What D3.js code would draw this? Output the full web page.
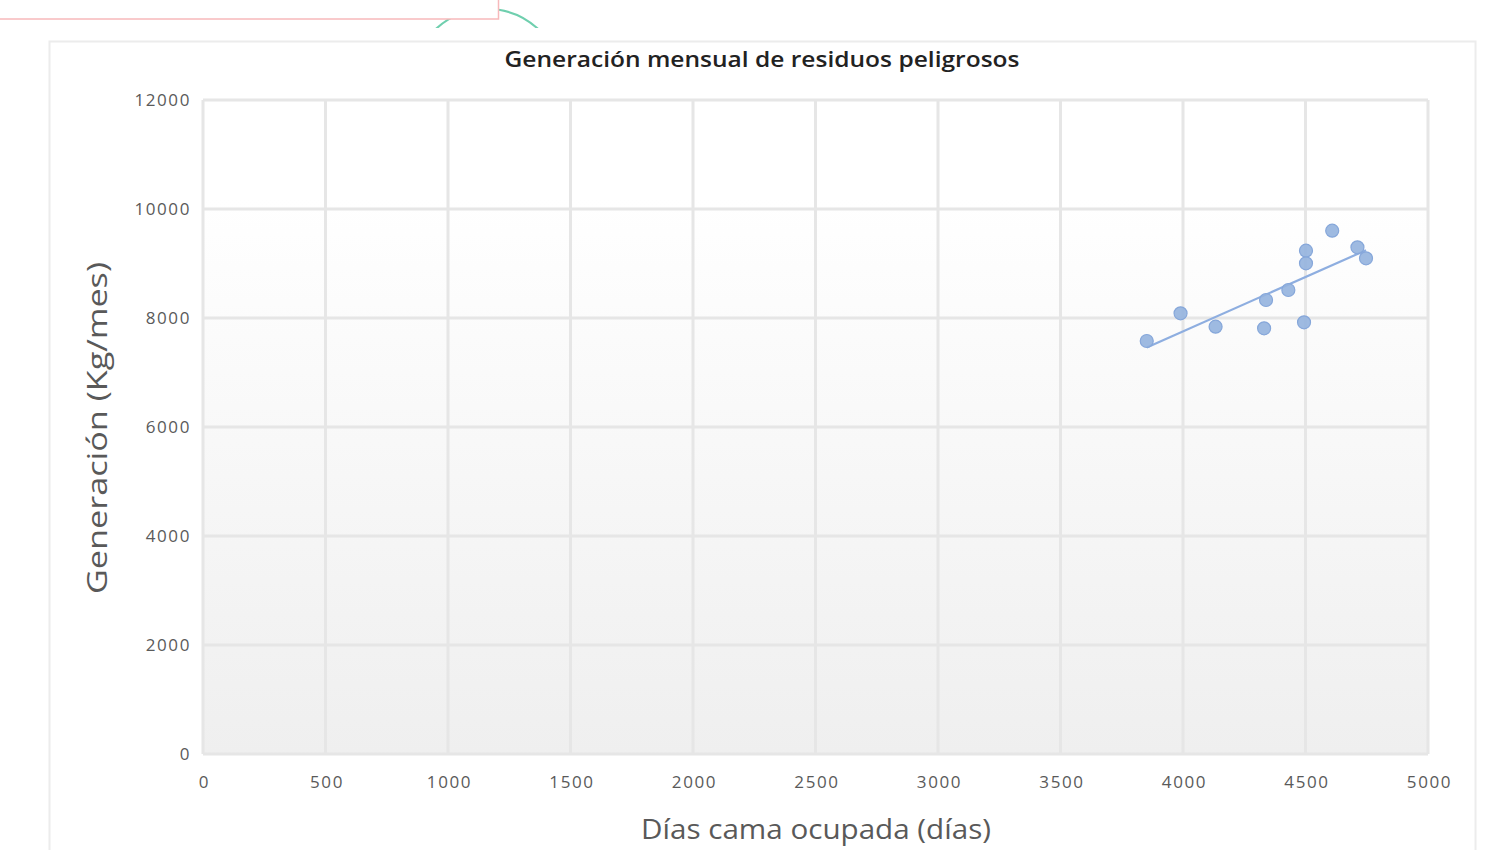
<!DOCTYPE html>
<html><head><meta charset="utf-8">
<script src="https://cdn.jsdelivr.net/npm/d3@7"></script>
<style>html,body{margin:0;padding:0;background:#fff;}svg{display:block;}</style>
</head><body>
<svg id="c" width="1503" height="850"></svg>
<script>
const title = "Generación mensual de residuos peligrosos";
const xTitle = "Días cama ocupada (días)";
const yTitle = "Generación (Kg/mes)";
const xTicks = [0,500,1000,1500,2000,2500,3000,3500,4000,4500,5000];
const yTicks = [0,2000,4000,6000,8000,10000,12000];
const diasCama = [3852,3990,4133,4331,4339,4430,4494,4502,4502,4609,4712,4747];
const generacion = [7578,8086,7841,7811,8330,8514,7921,9235,9003,9602,9297,9095];

const svg = d3.select("#c");
const W=1503,H=850;
const pl=203, pr=1428, pt=100, pb=754;

const x = d3.scaleLinear().domain([0,5000]).range([pl,pr]);
const y = d3.scaleLinear().domain([0,12000]).range([pb,pt]);

// background decorations
const defs = svg.append("defs");
defs.append("clipPath").attr("id","arcClip").append("rect").attr("x",0).attr("y",0).attr("width",W).attr("height",28);
svg.append("circle").attr("cx",487).attr("cy",84.4).attr("r",75.4)
  .attr("fill","none").attr("stroke","#6fcfae").attr("stroke-width",2.2).attr("clip-path","url(#arcClip)");
svg.append("rect").attr("x",-2).attr("y",-2).attr("width",500.5).attr("height",21)
  .attr("fill","#fff").attr("stroke","#f7b9bb").attr("stroke-width",1.5);

// chart frame
svg.append("rect").attr("x",49.5).attr("y",41.5).attr("width",1426).attr("height",820)
  .attr("fill","#fff").attr("stroke","#ececec").attr("stroke-width",2);

// plot gradient
const g = defs.append("linearGradient").attr("id","pg").attr("x1",0).attr("y1",0).attr("x2",0).attr("y2",1);
g.append("stop").attr("offset","0%").attr("stop-color","#ffffff");
g.append("stop").attr("offset","15%").attr("stop-color","#ffffff");
g.append("stop").attr("offset","100%").attr("stop-color","#efefef");
svg.append("rect").attr("x",pl).attr("y",pt).attr("width",pr-pl).attr("height",pb-pt).attr("fill","url(#pg)");

// gridlines
svg.append("g").selectAll("line").data(xTicks).join("line")
  .attr("x1",d=>x(d)).attr("x2",d=>x(d)).attr("y1",pt).attr("y2",pb)
  .attr("stroke","#e6e6e6").attr("stroke-width",3);
svg.append("g").selectAll("line").data(yTicks).join("line")
  .attr("y1",d=>y(d)).attr("y2",d=>y(d)).attr("x1",pl).attr("x2",pr)
  .attr("stroke","#e6e6e6").attr("stroke-width",3);

// axes labels
const font = "'Open Sans', 'Liberation Sans', sans-serif";
const xAxis = d3.axisBottom(x).tickValues(xTicks).tickSize(0).tickPadding(0).tickFormat(d3.format("d"));
const xa = svg.append("g").attr("transform",`translate(1,${pb+34})`).call(xAxis);
xa.select(".domain").remove();
xa.selectAll("text").attr("fill","#5a5a5a").attr("font-size",17).attr("font-family",font)
  .attr("letter-spacing","1.6px").attr("dy",0);

const yAxis = d3.axisLeft(y).tickValues(yTicks).tickSize(0).tickPadding(0).tickFormat(d3.format("d"));
const ya = svg.append("g").attr("transform",`translate(${pl-12},0)`).call(yAxis);
ya.select(".domain").remove();
ya.selectAll("text").attr("fill","#5a5a5a").attr("font-size",17).attr("font-family",font)
  .attr("letter-spacing","1.6px").attr("dy","0.32em");

// titles
svg.append("text").attr("x",762).attr("y",67).attr("text-anchor","middle")
  .attr("font-family",font).attr("font-size",21).attr("fill","#222").attr("font-weight",600)
  .attr("textLength",515).attr("lengthAdjust","spacingAndGlyphs").text(title);
svg.append("text").attr("x",816).attr("y",839).attr("text-anchor","middle")
  .attr("font-family",font).attr("font-size",27).attr("fill","#595959")
  .attr("textLength",350).attr("lengthAdjust","spacingAndGlyphs").text(xTitle);
svg.append("text").attr("transform","translate(107,428) rotate(-90)").attr("text-anchor","middle")
  .attr("font-family",font).attr("font-size",27).attr("fill","#595959")
  .attr("textLength",332).attr("lengthAdjust","spacingAndGlyphs").text(yTitle);

// trendline (least squares)
const n = diasCama.length;
const mx = d3.mean(diasCama), my = d3.mean(generacion);
let sxy=0,sxx=0;
for(let i=0;i<n;i++){sxy+=(diasCama[i]-mx)*(generacion[i]-my);sxx+=(diasCama[i]-mx)**2;}
const slope=sxy/sxx, icpt=my-slope*mx;
const x0=d3.min(diasCama), x1=d3.max(diasCama);
svg.append("line").attr("x1",x(x0)).attr("y1",y(icpt+slope*x0)).attr("x2",x(x1)).attr("y2",y(icpt+slope*x1))
  .attr("stroke","#8eaee0").attr("stroke-width",2.2);

// points
svg.append("g").selectAll("circle").data(diasCama.map((d,i)=>[d,generacion[i]])).join("circle")
  .attr("cx",d=>x(d[0])).attr("cy",d=>y(d[1])).attr("r",6.5)
  .attr("fill","#93b2de").attr("fill-opacity",0.9).attr("stroke","#86a7da").attr("stroke-width",1.2);
</script>
</body></html>
